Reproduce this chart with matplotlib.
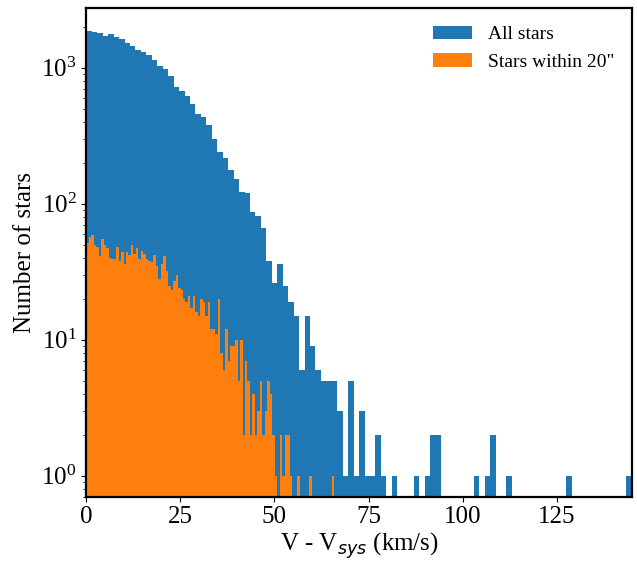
import numpy as np
import matplotlib
matplotlib.use("Agg")
import matplotlib.pyplot as plt

plt.rcParams['font.family'] = ['Liberation Serif', 'DejaVu Serif']
plt.rcParams['mathtext.fontset'] = 'dejavusans'

# --- data: histogram counts ---
all_range = (0.0, 145.0)      # km/s, 100 bins
near_range = (0.0, 65.9)      # km/s, 100 bins

all_counts = [
    1862, 1832, 1800, 1710, 1770, 1682, 1626, 1520, 1445, 1350,
    1305, 1240, 1140, 1030, 978, 869, 721, 674, 620, 541,
    457, 434, 380, 299, 240, 217, 177, 152, 122, 120,
    87, 81, 66, 38, 26, 36, 25, 19, 15, 6,
    15, 9, 6, 5, 5, 5, 3, 1, 5, 1,
    3, 1, 1, 2, 1, 0, 1, 0, 0, 0,
    1, 0, 1, 2, 2, 0, 0, 0, 0, 0,
    0, 1, 0, 1, 2, 0, 0, 1, 0, 0,
    0, 0, 0, 0, 0, 0, 0, 0, 1, 0,
    0, 0, 0, 0, 0, 0, 0, 0, 0, 1,
]

near_counts = [
    51, 57, 59, 50, 48, 41, 55, 50, 47, 40,
    39, 39, 48, 38, 44, 36, 44, 42, 50, 43,
    47, 39, 45, 43, 39, 38, 37, 42, 35, 28,
    36, 41, 32, 25, 23, 27, 30, 24, 23, 20,
    19, 21, 17, 21, 16, 15, 20, 19, 15, 19,
    12, 12, 11, 20, 8, 6, 12, 7, 9, 9,
    10, 5, 10, 2, 7, 5, 2, 4, 2, 3,
    5, 2, 3, 5, 4, 2, 1, 0, 2, 1,
    2, 2, 1, 0, 0, 1, 0, 0, 0, 0,
    1, 0, 0, 0, 0, 0, 0, 0, 0, 1,
]

labels = ["All stars", 'Stars within 20"']
colors = ["#1f77b4", "#ff7f0e"]

fig = plt.figure(figsize=(6.37, 5.62), dpi=100)
ax = fig.add_axes([0.1355, 0.1162, 0.8565, 0.8690])

edges_all = np.linspace(all_range[0], all_range[1], len(all_counts) + 1)
edges_near = np.linspace(near_range[0], near_range[1], len(near_counts) + 1)
cent_all = 0.5 * (edges_all[:-1] + edges_all[1:])
cent_near = 0.5 * (edges_near[:-1] + edges_near[1:])

ax.hist(cent_all, bins=edges_all, weights=all_counts, color=colors[0],
        label=labels[0], log=True)
ax.hist(cent_near, bins=edges_near, weights=near_counts, color=colors[1],
        label=labels[1], log=True)

ax.set_yscale('log')
ax.set_xlim(all_range)
ax.set_ylim(0.7, 2735)
ax.set_xticks([0, 25, 50, 75, 100, 125])

ax.set_xlabel('V - V$_{sys}$ (km/s)', fontsize=18, labelpad=1)
ax.set_ylabel('Number of stars', fontsize=18)
ax.tick_params(axis='both', which='major', labelsize=18)

for s in ax.spines.values():
    s.set_linewidth(1.6)

ax.legend(loc='upper right', frameon=False, fontsize=14)

fig.savefig("out.png", dpi=100)
